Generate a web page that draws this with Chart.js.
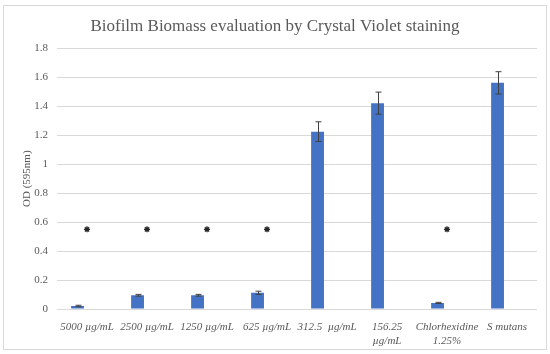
<!DOCTYPE html>
<html>
<head>
<meta charset="utf-8">
<script src="https://cdn.jsdelivr.net/npm/chart.js@4.4.0/dist/chart.umd.min.js"></script>
<style>
  body { margin: 0; background: #fff; }
  #box { width: 550px; height: 354px; }
</style>
</head>
<body>
<div id="box"><canvas id="chart-1" width="550" height="354"></canvas></div>
<script>
// Data

const categories = [
    '5000 µg/mL',
    '2500 µg/mL',
    '1250 µg/mL',
    '625 µg/mL',
    '312.5  µg/mL',
    ['156.25', 'µg/mL'],
    ['Chlorhexidine', '1.25%'],
    'S mutans',
];
const odValues = [0.021, 0.095, 0.095, 0.112, 1.225, 1.422, 0.042, 1.562];
const odErrors = [0.005, 0.006, 0.006, 0.011, 0.068, 0.076, 0.004, 0.077];
const starLevel = [0.55, 0.55, 0.55, 0.55, null, null, 0.55, null];
const emptySeries = [null, null, null, null, null, null, null, null];
const yTicks = [0, 0.2, 0.4, 0.6, 0.8, 1, 1.2, 1.4, 1.6, 1.8];

const textGray = '#595959';
const serif = "'Liberation Serif', 'DejaVu Serif', serif";


// Plugins

// white background and thin frame round the whole chart
const framePlugin = {
    id: 'frame',
    beforeDraw(chart) {
        const ctx = chart.ctx;
        ctx.save();
        ctx.fillStyle = '#ffffff';
        ctx.fillRect(0, 0, chart.width, chart.height);
        ctx.strokeStyle = '#d9d9d9';
        ctx.lineWidth = 1;
        ctx.strokeRect(3.5, 5.5, chart.width - 7, chart.height - 10);
        ctx.restore();
    }
};

// error bars on top of dataset 0
const errorBarPlugin = {
    id: 'errorBars',
    afterDatasetsDraw(chart) {
        const ctx = chart.ctx;
        const yScale = chart.scales.y;
        const meta = chart.getDatasetMeta(0);
        ctx.save();
        ctx.strokeStyle = '#404040';
        ctx.lineWidth = 1;
        meta.data.forEach((bar, i) => {
            const v = odValues[i];
            const e = odErrors[i];
            const x = Math.round(bar.x) + 0.5;
            const top = yScale.getPixelForValue(v + e);
            const bottom = yScale.getPixelForValue(v - e);
            ctx.beginPath();
            ctx.moveTo(x, top);
            ctx.lineTo(x, bottom);
            ctx.moveTo(x - 3, top);
            ctx.lineTo(x + 3, top);
            ctx.moveTo(x - 3, bottom);
            ctx.lineTo(x + 3, bottom);
            ctx.stroke();
        });
        ctx.restore();
    }
};


// Chart

const data1 = {
    labels: categories,
    datasets: [{
        type: 'bar',
        label: 'OD',
        data: odValues,
        backgroundColor: '#4472c4',
        barPercentage: 0.68,
        categoryPercentage: 0.63,
        order: 2,
    }, {
        type: 'bar',
        label: 'spacer',
        data: emptySeries,
        backgroundColor: 'rgba(0,0,0,0)',
        barPercentage: 0.68,
        categoryPercentage: 0.63,
        order: 3,
    }, {
        type: 'line',
        label: 'significance',
        data: starLevel,
        showLine: false,
        pointStyle: 'star',
        pointRadius: 3,
        pointBorderWidth: 1.3,
        borderColor: '#262626',
        backgroundColor: '#262626',
        order: 1,
    }],
};

const config1 = {
    type: 'bar',
    data: data1,
    options: {
        responsive: false,
        animation: false,
        layout: {
            padding: { left: 13, right: 13, top: 0, bottom: 0 }
        },
        plugins: {
            legend: { display: false },
            tooltip: { enabled: false },
            title: {
                display: true,
                text: 'Biofilm Biomass evaluation by Crystal Violet staining',
                color: textGray,
                font: { family: serif, size: 17, weight: 'normal' },
                padding: { top: 16, bottom: 12 },
            },
        },
        scales: {
            x: {
                grid: { display: false },
                border: { display: false },
                ticks: {
                    color: textGray,
                    font: { family: serif, size: 11, style: 'italic' },
                    maxRotation: 0,
                    autoSkip: false,
                    padding: 4,
                },
                afterFit(scale) { scale.height = 45; },
            },
            y: {
                min: 0,
                max: 1.8,
                grid: { color: '#d9d9d9', drawTicks: false },
                border: { display: false },
                afterBuildTicks(scale) {
                    scale.ticks = yTicks.map(v => ({ value: v }));
                },
                ticks: {
                    color: textGray,
                    font: { family: serif, size: 11 },
                    padding: 9,
                    callback: v => String(+v.toFixed(1)),
                },
                title: {
                    display: true,
                    text: 'OD (595nm)',
                    color: textGray,
                    font: { family: serif, size: 11 },
                    padding: { top: 8, bottom: 0 },
                },
                afterFit(scale) { scale.width = 44; },
            }
        }
    },
    plugins: [framePlugin, errorBarPlugin],
};

const context1 = document.getElementById('chart-1').getContext('2d');
const chart1 = new Chart(context1, config1);
</script>
</body>
</html>
